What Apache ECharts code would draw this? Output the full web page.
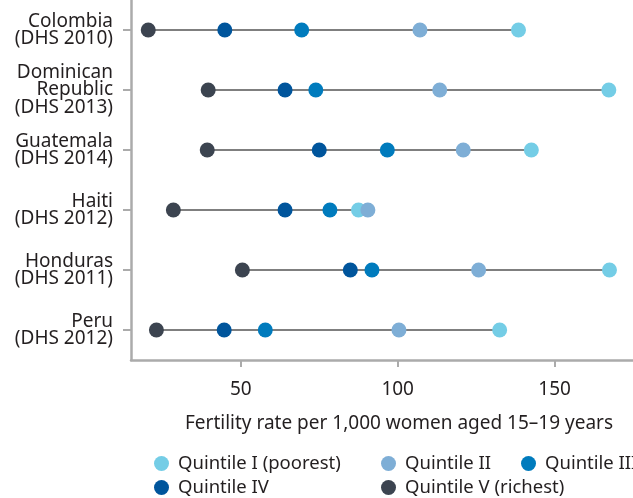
<!DOCTYPE html>
<html>
<head>
<meta charset="utf-8">
<script src="https://cdn.jsdelivr.net/npm/echarts@6/dist/echarts.min.js"></script>
<style>
  html, body { margin: 0; padding: 0; background: #ffffff; }
  #chart { width: 633px; height: 498px; }
</style>
</head>
<body>
<div id="chart"></div>
<script>
// Adolescent fertility by wealth quintile, selected DHS surveys
const countries = [
  'Colombia\n(DHS 2010)',
  'Dominican\nRepublic\n(DHS 2013)',
  'Guatemala\n(DHS 2014)',
  'Haiti\n(DHS 2012)',
  'Honduras\n(DHS 2011)',
  'Peru\n(DHS 2012)'
];
const quintileNames = [
  'Quintile I (poorest)',
  'Quintile II',
  'Quintile III',
  'Quintile IV',
  'Quintile V (richest)'
];
const quintile1 = [138.5, 167.3, 142.6, 87.5, 167.5, 132.5];
const quintile2 = [107.1, 113.4, 120.9, 90.5, 125.8, 100.4];
const quintile3 = [69.4, 73.9, 96.7, 78.4, 91.8, 57.8];
const quintile4 = [44.9, 64.1, 75.0, 64.1, 84.9, 44.7];
const quintile5 = [20.5, 39.6, 39.3, 28.5, 50.5, 23.1];
const xTicks = [50, 100, 150];
const axisTitle = 'Fertility rate per 1,000 women aged 15\u201319 years';

const quintileValues = [quintile1, quintile2, quintile3, quintile4, quintile5];
const quintileColors = ['#74cde6', '#7eaed6', '#007bbd', '#00559c', '#3c4450'];

const FONT = "'Noto Sans', sans-serif";
const FONT_SIZE = 19;
const TEXT = '#231f20';
const AXIS = '#ababab';

// range of each row, for the connecting line
const ranges = countries.map((c, i) => {
  const vals = quintileValues.map(q => q[i]);
  return [Math.min(...vals), Math.max(...vals), i];
});

const chart = echarts.init(document.getElementById('chart'), null, { renderer: 'canvas' });

const scatterSeries = quintileNames.map((name, k) => ({
  name: name,
  type: 'scatter',
  symbol: 'circle',
  symbolSize: 15,
  itemStyle: { color: quintileColors[k], opacity: 1 },
  emphasis: { disabled: true },
  z: 3 + k,
  data: countries.map((c, i) => [quintileValues[k][i], c])
}));

// one legend block per item so the two rows line up in columns
const legendSpots = [
  [154, 454], [381, 454], [521, 454],
  [154, 478], [381, 478]
];
const legends = quintileNames.map((name, k) => ({
  data: [{ name: name, icon: 'circle' }],
  left: legendSpots[k][0],
  top: legendSpots[k][1],
  padding: 0,
  itemWidth: 15,
  itemHeight: 15,
  selectedMode: false,
  textStyle: { fontFamily: FONT, fontSize: 18.5, color: TEXT, padding: [0, 0, 0, 4], overflow: 'none' }
}));

chart.setOption({
  animation: false,
  backgroundColor: '#ffffff',
  grid: { left: 131, right: -2, top: 0, bottom: 138, containLabel: false },
  legend: legends,
  xAxis: {
    type: 'value',
    min: 15,
    max: 175,
    splitNumber: 3,
    axisLine: { show: true, lineStyle: { color: AXIS, width: 2.5 } },
    axisTick: { show: true, length: 7, lineStyle: { color: AXIS, width: 2 }, customValues: xTicks },
    axisLabel: {
      customValues: xTicks,
      margin: 20,
      fontFamily: FONT, fontSize: FONT_SIZE, color: TEXT
    },
    splitLine: { show: false }
  },
  yAxis: {
    type: 'category',
    inverse: true,
    data: countries,
    axisLine: { show: true, lineStyle: { color: AXIS, width: 2.5 } },
    axisTick: { show: true, alignWithLabel: true, length: 8, lineStyle: { color: AXIS, width: 2 } },
    axisLabel: {
      margin: 18,
      fontFamily: FONT, fontSize: FONT_SIZE, lineHeight: 17.5, color: TEXT, align: 'right'
    },
    splitLine: { show: false }
  },
  graphic: [{
    type: 'text',
    x: 399,
    y: 424,
    style: {
      text: axisTitle,
      font: FONT_SIZE + "px 'Noto Sans', sans-serif",
      fill: TEXT,
      align: 'center',
      verticalAlign: 'middle'
    }
  }],
  series: [{
    type: 'custom',
    name: 'range',
    silent: true,
    z: 2,
    encode: { x: [0, 1], y: 2 },
    data: ranges,
    renderItem: function (params, api) {
      const a = api.coord([api.value(0), api.value(2)]);
      const b = api.coord([api.value(1), api.value(2)]);
      return {
        type: 'line',
        shape: { x1: a[0], y1: a[1], x2: b[0], y2: b[1] },
        style: { stroke: '#555555', lineWidth: 1.6 }
      };
    }
  }].concat(scatterSeries)
});
</script>
</body>
</html>
